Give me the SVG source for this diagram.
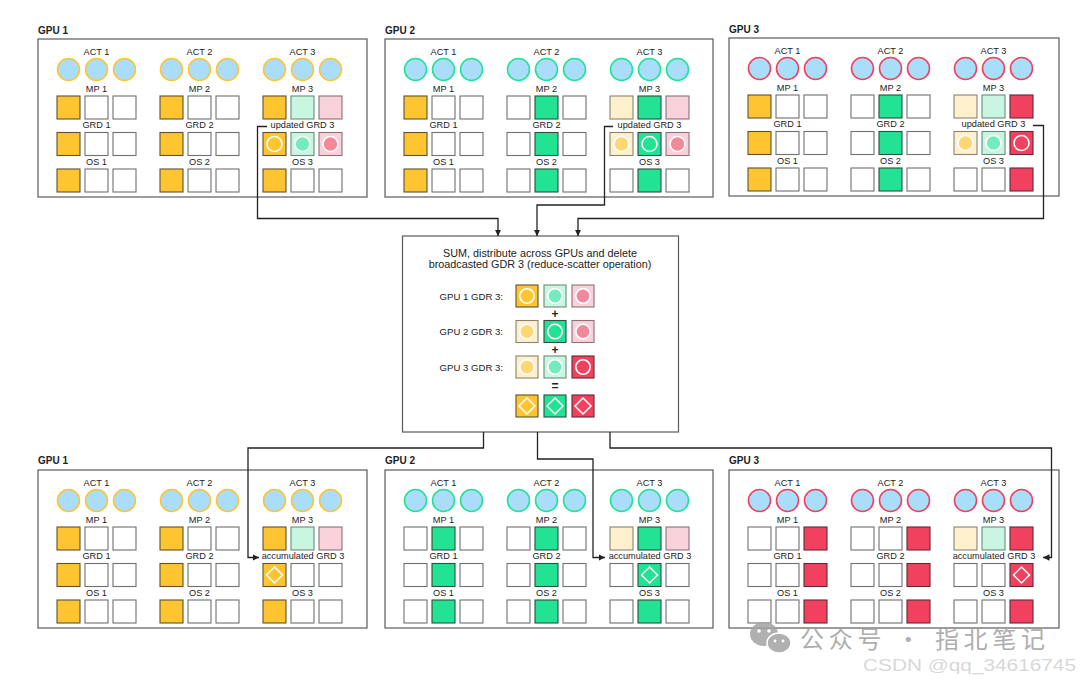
<svg xmlns="http://www.w3.org/2000/svg" xmlns:xlink="http://www.w3.org/1999/xlink" width="1080" height="682" viewBox="0 0 1080 682">
<style>
.t{font-family:"Liberation Sans",Arial,sans-serif;font-size:9.2px;fill:#222;text-anchor:middle}
.tr{font-family:"Liberation Sans",Arial,sans-serif;font-size:9.6px;fill:#222;text-anchor:end}
.tc{font-family:"Liberation Sans",Arial,sans-serif;font-size:10.8px;fill:#222;text-anchor:middle}
.op{font-family:"Liberation Sans",Arial,sans-serif;font-size:12px;font-weight:bold;fill:#222;text-anchor:middle}
.hd{font-family:"Liberation Sans",Arial,sans-serif;font-size:10px;font-weight:bold;fill:#222}
.pn{fill:#fff;stroke:#5a5a5a;stroke-width:1.2}
.w{fill:#fff;stroke:#707070;stroke-width:1.1}
.o{fill:#FFC531;stroke:#5e5030;stroke-width:1.1}
.g{fill:#22E393;stroke:#2d4f40;stroke-width:1.1}
.r{fill:#F2405F;stroke:#5e2a35;stroke-width:1.1}
.ly{fill:#FFF0CD;stroke:#8a8272;stroke-width:1.1}
.lg{fill:#C9F6E1;stroke:#6d8a7c;stroke-width:1.1}
.pk{fill:#F9D1DA;stroke:#8a7278;stroke-width:1.1}
.co{fill:#A9DDFA;stroke:#FFC531;stroke-width:1.6}
.cg{fill:#A9DDFA;stroke:#22E393;stroke-width:1.6}
.cr{fill:#A9DDFA;stroke:#F2405F;stroke-width:1.6}
.ih{fill:none;stroke:#fff;stroke-width:1.6}
.iy{fill:#FFD670;stroke:#fff;stroke-width:1.6}
.ig{fill:#72EBBD;stroke:#fff;stroke-width:1.6}
.ip{fill:#F2899B;stroke:#fff;stroke-width:1.6}
.dm{fill:none;stroke:#fff;stroke-width:1.5}
.cn{fill:none;stroke:#222;stroke-width:1.3}
</style>
<defs>
<rect id="s" width="23" height="23"/>
<rect id="s2" width="22" height="22"/>
<circle id="a" r="11"/>
<circle id="i" r="7.5"/>
<circle id="i2" r="7.2"/>
<polygon id="d" points="0,-8 8,0 0,8 -8,0"/>
<marker id="ar" markerUnits="userSpaceOnUse" markerWidth="7" markerHeight="7" refX="6.5" refY="3.5" orient="auto">
<path d="M0,0.3 L6.5,3.5 L0,6.7 z" fill="#222"/>
</marker>
</defs>
<rect width="1080" height="682" fill="#fff"/>

<!-- ===== TOP GPU 1 ===== -->
<g id="gpu1-top" transform="translate(38 39)">
<rect class="pn" width="329" height="158"/>
<text class="hd" y="-5">GPU 1</text>
<text class="t" x="58.5" y="16">ACT 1</text><text class="t" x="161.5" y="16">ACT 2</text><text class="t" x="264.5" y="16">ACT 3</text>
<g class="co"><use href="#a" x="30.5" y="30.5"/><use href="#a" x="58.5" y="30.5"/><use href="#a" x="86.5" y="30.5"/><use href="#a" x="133.5" y="30.5"/><use href="#a" x="161.5" y="30.5"/><use href="#a" x="189.5" y="30.5"/><use href="#a" x="236.5" y="30.5"/><use href="#a" x="264.5" y="30.5"/><use href="#a" x="292.5" y="30.5"/></g>
<text class="t" x="58.5" y="52.5">MP 1</text><text class="t" x="161.5" y="52.5">MP 2</text><text class="t" x="264.5" y="52.5">MP 3</text>
<text class="t" x="58.5" y="89">GRD 1</text><text class="t" x="161.5" y="89">GRD 2</text><text class="t" x="264.5" y="89">updated GRD 3</text>
<text class="t" x="58.5" y="125.5">OS 1</text><text class="t" x="161.5" y="125.5">OS 2</text><text class="t" x="264.5" y="125.5">OS 3</text>
<use href="#s" class="o" x="19" y="57"/><use href="#s" class="w" x="47" y="57"/><use href="#s" class="w" x="75" y="57"/>
<use href="#s" class="o" x="122" y="57"/><use href="#s" class="w" x="150" y="57"/><use href="#s" class="w" x="178" y="57"/>
<use href="#s" class="o" x="225" y="57"/><use href="#s" class="lg" x="253" y="57"/><use href="#s" class="pk" x="281" y="57"/>
<use href="#s" class="o" x="19" y="93.5"/><use href="#s" class="w" x="47" y="93.5"/><use href="#s" class="w" x="75" y="93.5"/>
<use href="#s" class="o" x="122" y="93.5"/><use href="#s" class="w" x="150" y="93.5"/><use href="#s" class="w" x="178" y="93.5"/>
<use href="#s" class="o" x="225" y="93.5"/><use href="#s" class="lg" x="253" y="93.5"/><use href="#s" class="pk" x="281" y="93.5"/>
<use href="#i" class="ih" x="236.5" y="105"/><use href="#i" class="ig" x="264.5" y="105"/><use href="#i" class="ip" x="292.5" y="105"/>
<use href="#s" class="o" x="19" y="130"/><use href="#s" class="w" x="47" y="130"/><use href="#s" class="w" x="75" y="130"/>
<use href="#s" class="o" x="122" y="130"/><use href="#s" class="w" x="150" y="130"/><use href="#s" class="w" x="178" y="130"/>
<use href="#s" class="o" x="225" y="130"/><use href="#s" class="w" x="253" y="130"/><use href="#s" class="w" x="281" y="130"/>
</g>

<!-- ===== TOP GPU 2 ===== -->
<g id="gpu2-top" transform="translate(385 39)">
<rect class="pn" width="328" height="158"/>
<text class="hd" y="-5">GPU 2</text>
<text class="t" x="58.5" y="16">ACT 1</text><text class="t" x="161.5" y="16">ACT 2</text><text class="t" x="264.5" y="16">ACT 3</text>
<g class="cg"><use href="#a" x="30.5" y="30.5"/><use href="#a" x="58.5" y="30.5"/><use href="#a" x="86.5" y="30.5"/><use href="#a" x="133.5" y="30.5"/><use href="#a" x="161.5" y="30.5"/><use href="#a" x="189.5" y="30.5"/><use href="#a" x="236.5" y="30.5"/><use href="#a" x="264.5" y="30.5"/><use href="#a" x="292.5" y="30.5"/></g>
<text class="t" x="58.5" y="52.5">MP 1</text><text class="t" x="161.5" y="52.5">MP 2</text><text class="t" x="264.5" y="52.5">MP 3</text>
<text class="t" x="58.5" y="89">GRD 1</text><text class="t" x="161.5" y="89">GRD 2</text><text class="t" x="264.5" y="89">updated GRD 3</text>
<text class="t" x="58.5" y="125.5">OS 1</text><text class="t" x="161.5" y="125.5">OS 2</text><text class="t" x="264.5" y="125.5">OS 3</text>
<use href="#s" class="o" x="19" y="57"/><use href="#s" class="w" x="47" y="57"/><use href="#s" class="w" x="75" y="57"/>
<use href="#s" class="w" x="122" y="57"/><use href="#s" class="g" x="150" y="57"/><use href="#s" class="w" x="178" y="57"/>
<use href="#s" class="ly" x="225" y="57"/><use href="#s" class="g" x="253" y="57"/><use href="#s" class="pk" x="281" y="57"/>
<use href="#s" class="o" x="19" y="93.5"/><use href="#s" class="w" x="47" y="93.5"/><use href="#s" class="w" x="75" y="93.5"/>
<use href="#s" class="w" x="122" y="93.5"/><use href="#s" class="g" x="150" y="93.5"/><use href="#s" class="w" x="178" y="93.5"/>
<use href="#s" class="ly" x="225" y="93.5"/><use href="#s" class="g" x="253" y="93.5"/><use href="#s" class="pk" x="281" y="93.5"/>
<use href="#i" class="iy" x="236.5" y="105"/><use href="#i" class="ih" x="264.5" y="105"/><use href="#i" class="ip" x="292.5" y="105"/>
<use href="#s" class="o" x="19" y="130"/><use href="#s" class="w" x="47" y="130"/><use href="#s" class="w" x="75" y="130"/>
<use href="#s" class="w" x="122" y="130"/><use href="#s" class="g" x="150" y="130"/><use href="#s" class="w" x="178" y="130"/>
<use href="#s" class="w" x="225" y="130"/><use href="#s" class="g" x="253" y="130"/><use href="#s" class="w" x="281" y="130"/>
</g>

<!-- ===== TOP GPU 3 ===== -->
<g id="gpu3-top" transform="translate(729 38)">
<rect class="pn" width="330" height="158"/>
<text class="hd" y="-5">GPU 3</text>
<text class="t" x="58.5" y="16">ACT 1</text><text class="t" x="161.5" y="16">ACT 2</text><text class="t" x="264.5" y="16">ACT 3</text>
<g class="cr"><use href="#a" x="30.5" y="30.5"/><use href="#a" x="58.5" y="30.5"/><use href="#a" x="86.5" y="30.5"/><use href="#a" x="133.5" y="30.5"/><use href="#a" x="161.5" y="30.5"/><use href="#a" x="189.5" y="30.5"/><use href="#a" x="236.5" y="30.5"/><use href="#a" x="264.5" y="30.5"/><use href="#a" x="292.5" y="30.5"/></g>
<text class="t" x="58.5" y="52.5">MP 1</text><text class="t" x="161.5" y="52.5">MP 2</text><text class="t" x="264.5" y="52.5">MP 3</text>
<text class="t" x="58.5" y="89">GRD 1</text><text class="t" x="161.5" y="89">GRD 2</text><text class="t" x="264.5" y="89">updated GRD 3</text>
<text class="t" x="58.5" y="125.5">OS 1</text><text class="t" x="161.5" y="125.5">OS 2</text><text class="t" x="264.5" y="125.5">OS 3</text>
<use href="#s" class="o" x="19" y="57"/><use href="#s" class="w" x="47" y="57"/><use href="#s" class="w" x="75" y="57"/>
<use href="#s" class="w" x="122" y="57"/><use href="#s" class="g" x="150" y="57"/><use href="#s" class="w" x="178" y="57"/>
<use href="#s" class="ly" x="225" y="57"/><use href="#s" class="lg" x="253" y="57"/><use href="#s" class="r" x="281" y="57"/>
<use href="#s" class="o" x="19" y="93.5"/><use href="#s" class="w" x="47" y="93.5"/><use href="#s" class="w" x="75" y="93.5"/>
<use href="#s" class="w" x="122" y="93.5"/><use href="#s" class="g" x="150" y="93.5"/><use href="#s" class="w" x="178" y="93.5"/>
<use href="#s" class="ly" x="225" y="93.5"/><use href="#s" class="lg" x="253" y="93.5"/><use href="#s" class="r" x="281" y="93.5"/>
<use href="#i" class="iy" x="236.5" y="105"/><use href="#i" class="ig" x="264.5" y="105"/><use href="#i" class="ih" x="292.5" y="105"/>
<use href="#s" class="o" x="19" y="130"/><use href="#s" class="w" x="47" y="130"/><use href="#s" class="w" x="75" y="130"/>
<use href="#s" class="w" x="122" y="130"/><use href="#s" class="g" x="150" y="130"/><use href="#s" class="w" x="178" y="130"/>
<use href="#s" class="w" x="225" y="130"/><use href="#s" class="w" x="253" y="130"/><use href="#s" class="r" x="281" y="130"/>
</g>

<!-- ===== CENTER REDUCE-SCATTER ===== -->
<g id="reduce-scatter">
<rect class="pn" x="402.5" y="236" width="276" height="196"/>
<text class="tc" x="540" y="256.5">SUM, distribute across GPUs and delete</text>
<text class="tc" x="540" y="267.5">broadcasted GDR 3 (reduce-scatter operation)</text>
<text class="tr" x="503" y="299.5">GPU 1 GDR 3:</text>
<text class="tr" x="503" y="335">GPU 2 GDR 3:</text>
<text class="tr" x="503" y="370.5">GPU 3 GDR 3:</text>
<use href="#s2" class="o" x="516" y="285"/><use href="#s2" class="lg" x="544" y="285"/><use href="#s2" class="pk" x="572" y="285"/>
<use href="#i2" class="ih" x="527" y="296"/><use href="#i2" class="ig" x="555" y="296"/><use href="#i2" class="ip" x="583" y="296"/>
<text class="op" x="555" y="318">+</text>
<use href="#s2" class="ly" x="516" y="320.5"/><use href="#s2" class="g" x="544" y="320.5"/><use href="#s2" class="pk" x="572" y="320.5"/>
<use href="#i2" class="iy" x="527" y="331.5"/><use href="#i2" class="ih" x="555" y="331.5"/><use href="#i2" class="ip" x="583" y="331.5"/>
<text class="op" x="555" y="354">+</text>
<use href="#s2" class="ly" x="516" y="356"/><use href="#s2" class="lg" x="544" y="356"/><use href="#s2" class="r" x="572" y="356"/>
<use href="#i2" class="iy" x="527" y="367"/><use href="#i2" class="ig" x="555" y="367"/><use href="#i2" class="ih" x="583" y="367"/>
<text class="op" x="555" y="389.5">=</text>
<use href="#s2" class="o" x="516" y="395"/><use href="#s2" class="g" x="544" y="395"/><use href="#s2" class="r" x="572" y="395"/>
<use href="#d" class="dm" x="527" y="406"/><use href="#d" class="dm" x="555" y="406"/><use href="#d" class="dm" x="583" y="406"/>
</g>

<!-- ===== BOTTOM GPU 1 ===== -->
<g id="gpu1-bottom" transform="translate(38 470)">
<rect class="pn" width="329" height="158"/>
<text class="hd" y="-6">GPU 1</text>
<text class="t" x="58.5" y="16">ACT 1</text><text class="t" x="161.5" y="16">ACT 2</text><text class="t" x="264.5" y="16">ACT 3</text>
<g class="co"><use href="#a" x="30.5" y="30.5"/><use href="#a" x="58.5" y="30.5"/><use href="#a" x="86.5" y="30.5"/><use href="#a" x="133.5" y="30.5"/><use href="#a" x="161.5" y="30.5"/><use href="#a" x="189.5" y="30.5"/><use href="#a" x="236.5" y="30.5"/><use href="#a" x="264.5" y="30.5"/><use href="#a" x="292.5" y="30.5"/></g>
<text class="t" x="58.5" y="52.5">MP 1</text><text class="t" x="161.5" y="52.5">MP 2</text><text class="t" x="264.5" y="52.5">MP 3</text>
<text class="t" x="58.5" y="89">GRD 1</text><text class="t" x="161.5" y="89">GRD 2</text><text class="t" x="265" y="89">accumulated GRD 3</text>
<text class="t" x="58.5" y="125.5">OS 1</text><text class="t" x="161.5" y="125.5">OS 2</text><text class="t" x="264.5" y="125.5">OS 3</text>
<use href="#s" class="o" x="19" y="57"/><use href="#s" class="w" x="47" y="57"/><use href="#s" class="w" x="75" y="57"/>
<use href="#s" class="o" x="122" y="57"/><use href="#s" class="w" x="150" y="57"/><use href="#s" class="w" x="178" y="57"/>
<use href="#s" class="o" x="225" y="57"/><use href="#s" class="lg" x="253" y="57"/><use href="#s" class="pk" x="281" y="57"/>
<use href="#s" class="o" x="19" y="93.5"/><use href="#s" class="w" x="47" y="93.5"/><use href="#s" class="w" x="75" y="93.5"/>
<use href="#s" class="o" x="122" y="93.5"/><use href="#s" class="w" x="150" y="93.5"/><use href="#s" class="w" x="178" y="93.5"/>
<use href="#s" class="o" x="225" y="93.5"/><use href="#s" class="w" x="253" y="93.5"/><use href="#s" class="w" x="281" y="93.5"/>
<use href="#d" class="dm" x="236.5" y="105"/>
<use href="#s" class="o" x="19" y="130"/><use href="#s" class="w" x="47" y="130"/><use href="#s" class="w" x="75" y="130"/>
<use href="#s" class="o" x="122" y="130"/><use href="#s" class="w" x="150" y="130"/><use href="#s" class="w" x="178" y="130"/>
<use href="#s" class="o" x="225" y="130"/><use href="#s" class="w" x="253" y="130"/><use href="#s" class="w" x="281" y="130"/>
</g>

<!-- ===== BOTTOM GPU 2 ===== -->
<g id="gpu2-bottom" transform="translate(385 470)">
<rect class="pn" width="328" height="158"/>
<text class="hd" y="-6">GPU 2</text>
<text class="t" x="58.5" y="16">ACT 1</text><text class="t" x="161.5" y="16">ACT 2</text><text class="t" x="264.5" y="16">ACT 3</text>
<g class="cg"><use href="#a" x="30.5" y="30.5"/><use href="#a" x="58.5" y="30.5"/><use href="#a" x="86.5" y="30.5"/><use href="#a" x="133.5" y="30.5"/><use href="#a" x="161.5" y="30.5"/><use href="#a" x="189.5" y="30.5"/><use href="#a" x="236.5" y="30.5"/><use href="#a" x="264.5" y="30.5"/><use href="#a" x="292.5" y="30.5"/></g>
<text class="t" x="58.5" y="52.5">MP 1</text><text class="t" x="161.5" y="52.5">MP 2</text><text class="t" x="264.5" y="52.5">MP 3</text>
<text class="t" x="58.5" y="89">GRD 1</text><text class="t" x="161.5" y="89">GRD 2</text><text class="t" x="265" y="89">accumulated GRD 3</text>
<text class="t" x="58.5" y="125.5">OS 1</text><text class="t" x="161.5" y="125.5">OS 2</text><text class="t" x="264.5" y="125.5">OS 3</text>
<use href="#s" class="w" x="19" y="57"/><use href="#s" class="g" x="47" y="57"/><use href="#s" class="w" x="75" y="57"/>
<use href="#s" class="w" x="122" y="57"/><use href="#s" class="g" x="150" y="57"/><use href="#s" class="w" x="178" y="57"/>
<use href="#s" class="ly" x="225" y="57"/><use href="#s" class="g" x="253" y="57"/><use href="#s" class="pk" x="281" y="57"/>
<use href="#s" class="w" x="19" y="93.5"/><use href="#s" class="g" x="47" y="93.5"/><use href="#s" class="w" x="75" y="93.5"/>
<use href="#s" class="w" x="122" y="93.5"/><use href="#s" class="g" x="150" y="93.5"/><use href="#s" class="w" x="178" y="93.5"/>
<use href="#s" class="w" x="225" y="93.5"/><use href="#s" class="g" x="253" y="93.5"/><use href="#s" class="w" x="281" y="93.5"/>
<use href="#d" class="dm" x="264.5" y="105"/>
<use href="#s" class="w" x="19" y="130"/><use href="#s" class="g" x="47" y="130"/><use href="#s" class="w" x="75" y="130"/>
<use href="#s" class="w" x="122" y="130"/><use href="#s" class="g" x="150" y="130"/><use href="#s" class="w" x="178" y="130"/>
<use href="#s" class="w" x="225" y="130"/><use href="#s" class="g" x="253" y="130"/><use href="#s" class="w" x="281" y="130"/>
</g>

<!-- ===== BOTTOM GPU 3 ===== -->
<g id="gpu3-bottom" transform="translate(729 470)">
<rect class="pn" width="330" height="158"/>
<text class="hd" y="-6">GPU 3</text>
<text class="t" x="58.5" y="16">ACT 1</text><text class="t" x="161.5" y="16">ACT 2</text><text class="t" x="264.5" y="16">ACT 3</text>
<g class="cr"><use href="#a" x="30.5" y="30.5"/><use href="#a" x="58.5" y="30.5"/><use href="#a" x="86.5" y="30.5"/><use href="#a" x="133.5" y="30.5"/><use href="#a" x="161.5" y="30.5"/><use href="#a" x="189.5" y="30.5"/><use href="#a" x="236.5" y="30.5"/><use href="#a" x="264.5" y="30.5"/><use href="#a" x="292.5" y="30.5"/></g>
<text class="t" x="58.5" y="52.5">MP 1</text><text class="t" x="161.5" y="52.5">MP 2</text><text class="t" x="264.5" y="52.5">MP 3</text>
<text class="t" x="58.5" y="89">GRD 1</text><text class="t" x="161.5" y="89">GRD 2</text><text class="t" x="265" y="89">accumulated GRD 3</text>
<text class="t" x="58.5" y="125.5">OS 1</text><text class="t" x="161.5" y="125.5">OS 2</text><text class="t" x="264.5" y="125.5">OS 3</text>
<use href="#s" class="w" x="19" y="57"/><use href="#s" class="w" x="47" y="57"/><use href="#s" class="r" x="75" y="57"/>
<use href="#s" class="w" x="122" y="57"/><use href="#s" class="w" x="150" y="57"/><use href="#s" class="r" x="178" y="57"/>
<use href="#s" class="ly" x="225" y="57"/><use href="#s" class="lg" x="253" y="57"/><use href="#s" class="r" x="281" y="57"/>
<use href="#s" class="w" x="19" y="93.5"/><use href="#s" class="w" x="47" y="93.5"/><use href="#s" class="r" x="75" y="93.5"/>
<use href="#s" class="w" x="122" y="93.5"/><use href="#s" class="w" x="150" y="93.5"/><use href="#s" class="r" x="178" y="93.5"/>
<use href="#s" class="w" x="225" y="93.5"/><use href="#s" class="w" x="253" y="93.5"/><use href="#s" class="r" x="281" y="93.5"/>
<use href="#d" class="dm" x="292.5" y="105"/>
<use href="#s" class="w" x="19" y="130"/><use href="#s" class="w" x="47" y="130"/><use href="#s" class="r" x="75" y="130"/>
<use href="#s" class="w" x="122" y="130"/><use href="#s" class="w" x="150" y="130"/><use href="#s" class="r" x="178" y="130"/>
<use href="#s" class="w" x="225" y="130"/><use href="#s" class="w" x="253" y="130"/><use href="#s" class="r" x="281" y="130"/>
</g>

<!-- ===== CONNECTORS ===== -->
<g id="connectors">
<path class="cn" d="M267,126.5 H257.5 V218.5 H498 V236" marker-end="url(#ar)"/>
<path class="cn" d="M613,126.5 H604.5 V205 H537 V236" marker-end="url(#ar)"/>
<path class="cn" d="M1033,125.5 H1043.5 V218.5 H578 V236" marker-end="url(#ar)"/>
<path class="cn" d="M483.5,432 V448 H248 V557.5 H259" marker-end="url(#ar)"/>
<path class="cn" d="M537.5,432 V459 H593 V557.5 H605" marker-end="url(#ar)"/>
<path class="cn" d="M610,432 V448 H1051.5 V557.5 H1043" marker-end="url(#ar)"/>
</g>

<!-- ===== WATERMARK ===== -->
<g id="watermark" opacity="0.85">
<ellipse cx="764" cy="634" rx="14" ry="12" fill="#a3a3a3"/>
<ellipse cx="779" cy="643" rx="12" ry="10" fill="#a3a3a3" stroke="#fff" stroke-width="1.5"/>
<circle cx="759" cy="631" r="1.8" fill="#fff"/><circle cx="769" cy="631" r="1.8" fill="#fff"/>
<circle cx="775" cy="641" r="1.4" fill="#fff"/><circle cx="783" cy="641" r="1.4" fill="#fff"/>
<text x="800" y="648" font-family="'Noto Sans CJK SC',sans-serif" font-size="24" fill="#a0a0a0" textLength="245" lengthAdjust="spacing">公众号 · 指北笔记</text>
<text x="863" y="671" font-family="'Liberation Sans',Arial,sans-serif" font-size="17" fill="#d2d2d2" textLength="213" lengthAdjust="spacingAndGlyphs">CSDN @qq_34616745</text>
</g>
</svg>
